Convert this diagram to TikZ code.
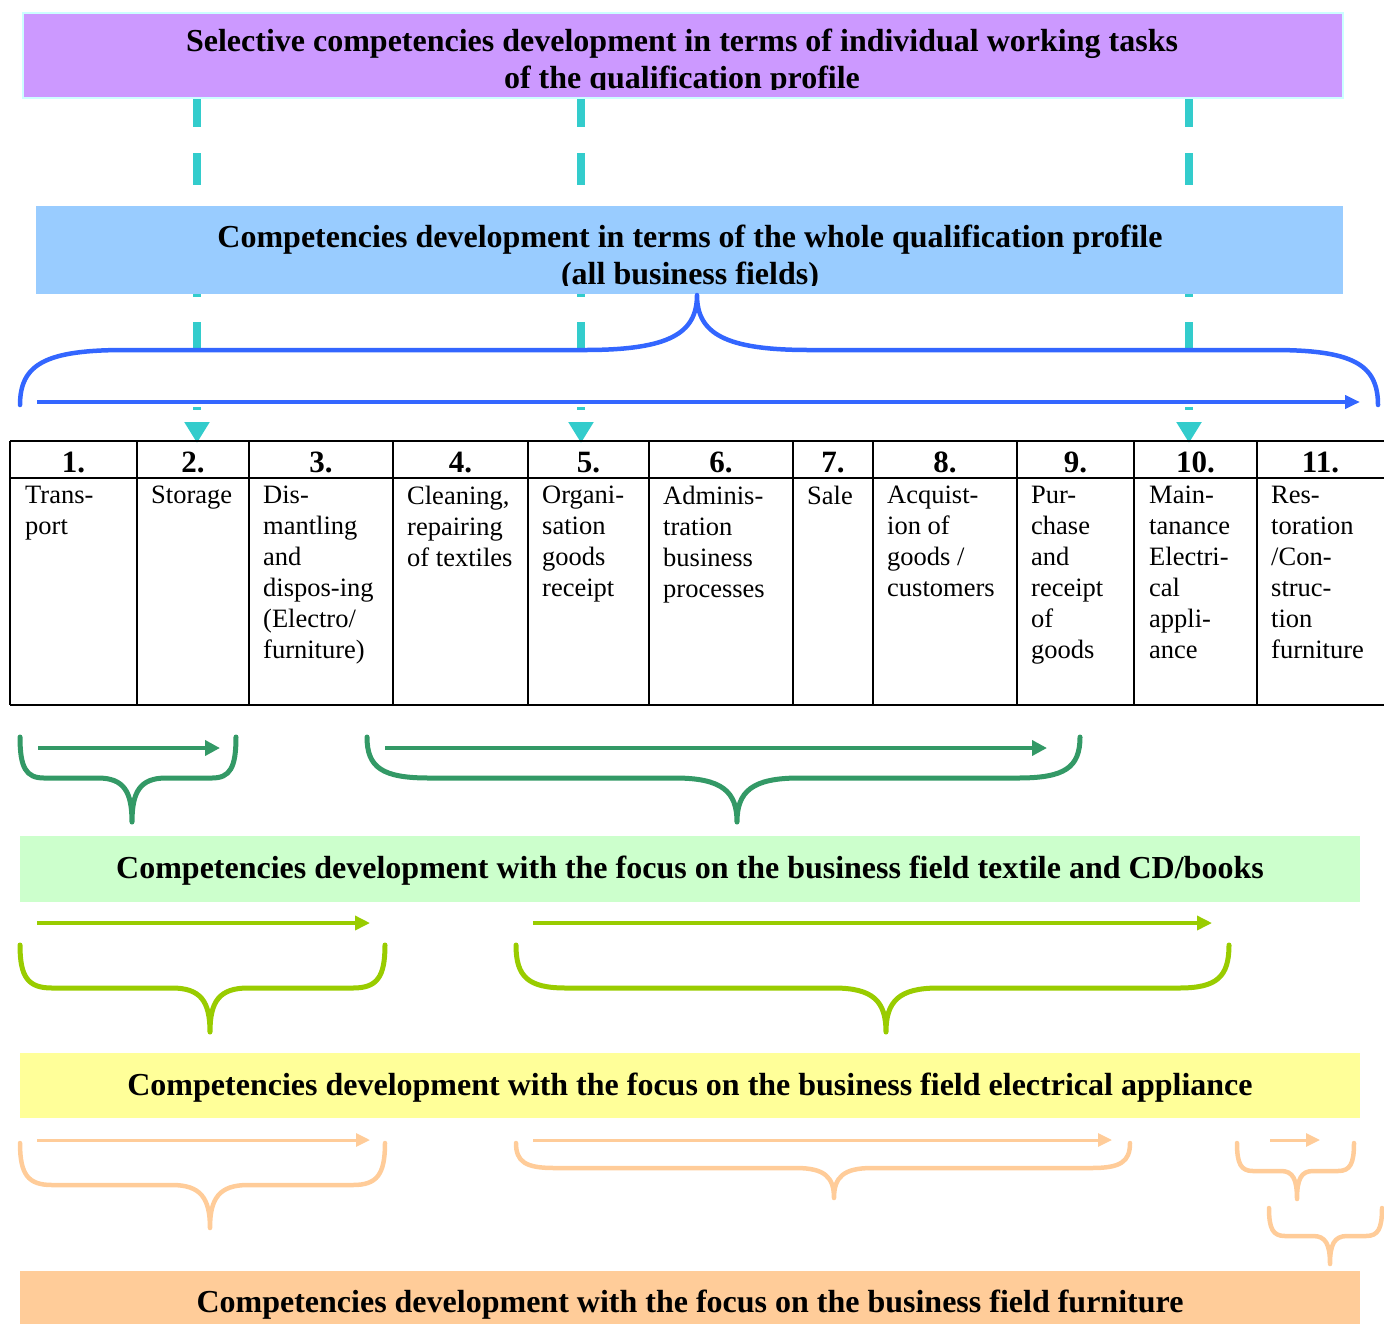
\documentclass[tikz,border=0pt]{standalone}
\usepackage{fontspec}
\setmainfont{Liberation Serif}
\usetikzlibrary{arrows.meta}
\definecolor{cviolet}{HTML}{CC99FF}
\definecolor{cvborder}{HTML}{CCFFFF}
\definecolor{cbluebox}{HTML}{99CCFF}
\definecolor{ccyan}{HTML}{33CCCC}
\definecolor{cblue}{HTML}{3366FF}
\definecolor{cgreen}{HTML}{339966}
\definecolor{cgreenbox}{HTML}{CCFFCC}
\definecolor{cyg}{HTML}{99CC00}
\definecolor{cyellowbox}{HTML}{FFFF99}
\definecolor{corange}{HTML}{FFCC99}
\tikzset{
  band/.style={draw=none, inner sep=0pt, anchor=north west},
  bandtext/.style={anchor=base, inner sep=0pt, font=\fontsize{32}{37}\selectfont\bfseries},
  numtext/.style={anchor=base, inner sep=0pt, font=\fontsize{31}{31}\selectfont\bfseries},
  celltext/.style={anchor=north west, inner sep=0pt, align=left, font=\fontsize{26.5}{31}\selectfont},
  grid/.style={line width=2.5pt, black},
  dasharrow/.style={ccyan, line width=8pt, dash pattern=on 30pt off 26pt on 32pt off 25pt on 30pt off 25pt on 32pt off 25pt on 30pt off 55pt on 3pt off 20pt, -{Triangle[length=21pt,width=24pt]}},
}
% brace: style, x1, x2, yend, yh, xtip, ytip, rc, rt
\newcommand\mybrace[9]{%
  \draw[#1, line cap=round, line join=round]
    (#2,#4) .. controls (#2,{#5+(#4-#5)*0.25}) and ({#2+#8*0.25},#5) .. ({#2+#8},#5)
    -- ({#6-#9},#5) .. controls ({#6-#9*0.25},#5) and (#6,{#5+(#7-#5)*0.3}) .. (#6,#7)
    .. controls (#6,{#5+(#7-#5)*0.3}) and ({#6+#9*0.25},#5) .. ({#6+#9},#5)
    -- ({#3-#8},#5) .. controls ({#3-#8*0.25},#5) and (#3,{#5+(#4-#5)*0.25}) .. (#3,#4);}
\begin{document}
\begin{tikzpicture}[x=1pt,y=-1pt]
\useasboundingbox (0,0) rectangle (1384,1323);

% anchor coordinates of the dashed connectors
\coordinate (d2s) at (197,97);
\coordinate (d5s) at (581,97);
\coordinate (d10s) at (1189,97);
\coordinate (d2e) at (197,443);
\coordinate (d5e) at (581,443);
\coordinate (d10e) at (1189,443);
\draw[dasharrow] (d2s) -- (d2e);
\draw[dasharrow] (d5s) -- (d5e);
\draw[dasharrow] (d10s) -- (d10e);

% top band
\node (sel) [band, fill=cviolet, draw=cvborder, line width=1.5pt, minimum width=1320pt, minimum height=85pt] at (22,12) {};
\begin{scope}
\clip (22,12) rectangle (1342,89);
\node (selt1) [bandtext] at (682,51) {Selective competencies development in terms of individual working tasks};
\node (selt2) [bandtext] at (682,88) {of the qualification profile};
\end{scope}

% blue band
\node (whole) [band, fill=cbluebox, minimum width=1307pt, minimum height=88pt] at (36,206) {};
\begin{scope}
\clip (36,206) rectangle (1343,285);
\node (wholet1) [bandtext] at (690,247) {Competencies development in terms of the whole qualification profile};
\node (wholet2) [bandtext] at (690,284) {(all business fields)};
\end{scope}

% blue brace and arrow
\mybrace{cblue, line width=4.5pt}{20}{1378}{405}{350}{697}{295}{105}{112}
\coordinate (ba1) at (37,402);
\coordinate (ba2) at (1360,402);
\draw[cblue, line width=4pt, -{Triangle[length=15pt,width=13pt]}] (ba1) -- (ba2);

% table
\draw[grid] (10,441) -- (1384,441);
\draw[grid] (10,478) -- (1384,478);
\draw[grid] (10,705) -- (1384,705);
\foreach \x in {10,137,249,393,528,649,793,873,1017,1134,1257} \draw[grid] (\x,441) -- (\x,705);

\node (h1) [numtext] at (73.5,472) {1.};
\node (h2) [numtext] at (193,472) {2.};
\node (h3) [numtext] at (321,472) {3.};
\node (h4) [numtext] at (460.5,472) {4.};
\node (h5) [numtext] at (588.5,472) {5.};
\node (h6) [numtext] at (721,472) {6.};
\node (h7) [numtext] at (833,472) {7.};
\node (h8) [numtext] at (945,472) {8.};
\node (h9) [numtext] at (1075.5,472) {9.};
\node (h10) [numtext] at (1195.5,472) {10.};
\node (h11) [numtext] at (1320.5,472) {11.};

\node (c1) [celltext] at (25,486) {Trans-\\port};
\node (c2) [celltext] at (151,486) {Storage};
\node (c3) [celltext] at (263,486) {Dis-\\mantling\\and\\dispos-ing\\(Electro/\\furniture)};
\node (c4) [celltext] at (407,486) {Cleaning,\\repairing\\of textiles};
\node (c5) [celltext] at (542,486) {Organi-\\sation\\goods\\receipt};
\node (c6) [celltext] at (663,486) {Adminis-\\tration\\business\\processes};
\node (c7) [celltext] at (807,486) {Sale};
\node (c8) [celltext] at (887,486) {Acquist-\\ion of\\goods /\\customers};
\node (c9) [celltext] at (1031,486) {Pur-\\chase\\and\\receipt\\of\\goods};
\node (c10) [celltext] at (1149,486) {Main-\\tanance\\Electri-\\cal\\appli-\\ance};
\node (c11) [celltext] at (1271,486) {Res-\\toration\\/Con-\\struc-\\tion\\furniture};

% green braces
\coordinate (ga1) at (38,748);
\coordinate (ga2) at (220,748);
\coordinate (gb1) at (385,748);
\coordinate (gb2) at (1047,748);
\draw[cgreen, line width=4pt, -{Triangle[length=15pt,width=15pt]}] (ga1) -- (ga2);
\draw[cgreen, line width=4pt, -{Triangle[length=15pt,width=15pt]}] (gb1) -- (gb2);
\mybrace{cgreen, line width=5pt}{20}{236}{737}{778}{132}{822}{24}{34}
\mybrace{cgreen, line width=5pt}{367}{1080}{737}{778}{737}{822}{62}{62}

\node (textile) [band, fill=cgreenbox, minimum width=1340pt, minimum height=66pt] at (20,836) {};
\node (textilet) [bandtext] at (690,878) {Competencies development with the focus on the business field textile and CD/books};

% yellow-green braces
\coordinate (ya1) at (37,923);
\coordinate (ya2) at (370,923);
\coordinate (yb1) at (533,923);
\coordinate (yb2) at (1212,923);
\draw[cyg, line width=3.5pt, -{Triangle[length=15pt,width=14pt]}] (ya1) -- (ya2);
\draw[cyg, line width=3.5pt, -{Triangle[length=15pt,width=14pt]}] (yb1) -- (yb2);
\mybrace{cyg, line width=5pt}{20}{385}{945}{988}{210}{1032}{32}{38}
\mybrace{cyg, line width=5pt}{516}{1229}{945}{988}{886}{1032}{50}{52}

\node (elec) [band, fill=cyellowbox, minimum width=1340pt, minimum height=65pt] at (20,1053) {};
\node (elect) [bandtext] at (690,1095) {Competencies development with the focus on the business field electrical appliance};

% orange braces
\coordinate (oa1) at (37,1140);
\coordinate (oa2) at (370,1140);
\coordinate (ob1) at (533,1140);
\coordinate (ob2) at (1112,1140);
\coordinate (oc1) at (1270,1140);
\coordinate (oc2) at (1320,1140);
\draw[corange, line width=3pt, -{Triangle[length=14pt,width=13pt]}] (oa1) -- (oa2);
\draw[corange, line width=3pt, -{Triangle[length=14pt,width=13pt]}] (ob1) -- (ob2);
\draw[corange, line width=3pt, -{Triangle[length=14pt,width=13pt]}] (oc1) -- (oc2);
\mybrace{corange, line width=4.5pt}{20}{385}{1143}{1185}{210}{1228}{32}{38}
\mybrace{corange, line width=4.5pt}{516}{1130}{1143}{1168}{834}{1198}{38}{38}
\mybrace{corange, line width=4.5pt}{1237}{1354}{1143}{1171}{1297}{1199}{16}{16}
\mybrace{corange, line width=4.5pt}{1269}{1382}{1208}{1236}{1330}{1264}{16}{17}

\node (furn) [band, fill=corange, minimum width=1340pt, minimum height=53pt] at (20,1271) {};
\node (furnt) [bandtext] at (690,1312) {Competencies development with the focus on the business field furniture};
\end{tikzpicture}
\end{document}
